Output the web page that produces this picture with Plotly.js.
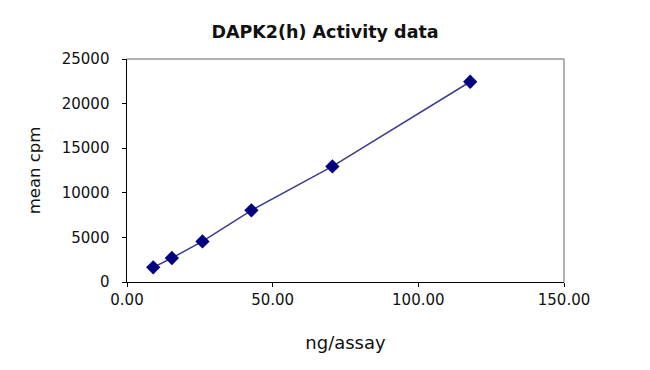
<!DOCTYPE html>
<html><head><meta charset="utf-8">
<script src="https://cdn.plot.ly/plotly-3.0.1.min.js"></script>
<style>html,body{margin:0;padding:0;background:#fff;}#chart{width:650px;height:370px;}</style>
</head><body><div id="chart"></div>
<script>
const ngPerAssay = [9.0, 15.4, 25.9, 42.7, 70.5, 117.8];
const meanCpm = [1640, 2690, 4550, 8030, 12960, 22450];
const xTickVals = [0, 50, 100, 150];
const xTickText = ['0.00', '50.00', '100.00', '150.00'];
const yTickVals = [0, 5000, 10000, 15000, 20000, 25000];

const trace = {
  x: ngPerAssay, y: meanCpm, type: 'scatter', mode: 'lines+markers',
  line: {color: '#3d3d8f', width: 1.5},
  marker: {symbol: 'diamond', size: 11, color: '#000080'},
  showlegend: false, hoverinfo: 'none'
};
const F = 'DejaVu Sans, Verdana, sans-serif';
const layout = {
  width: 650, height: 370,
  margin: {l: 127, r: 86, t: 59, b: 88},
  paper_bgcolor: '#fff', plot_bgcolor: '#fff',
  font: {family: F, color: '#111', size: 15},
  title: {text: '<b>DAPK2(h) Activity data</b>', font: {family: F, size: 17.5, color: '#111'}, x: 0.5, xanchor: 'center', y: 0.913, yanchor: 'middle'},
  xaxis: {
    range: [0, 150], tickvals: xTickVals, ticktext: xTickText,
    showgrid: false, zeroline: false, showline: true, linecolor: '#000', linewidth: 1,
    ticks: 'outside', ticklen: 4, tickcolor: '#000',
    tickfont: {family: F, size: 15, color: '#111'},
    title: {text: 'ng/assay', font: {family: F, size: 18, color: '#111'}, standoff: 28},
    mirror: false
  },
  yaxis: {
    range: [0, 25000], tickvals: yTickVals, ticktext: yTickVals.map(v => v + '\u00a0\u00a0'),
    showgrid: false, zeroline: false, showline: true, linecolor: '#000', linewidth: 1,
    ticks: 'outside', ticklen: 4, tickcolor: '#000',
    tickfont: {family: F, size: 15, color: '#111'},
    title: {text: 'mean cpm', font: {family: F, size: 16.5, color: '#111'}, standoff: 16}
  },
  shapes: [
    {type: 'line', xref: 'paper', yref: 'paper', x0: 0, x1: 1, y0: 1, y1: 1, line: {color: '#999', width: 1.5}},
    {type: 'line', xref: 'paper', yref: 'paper', x0: 1, x1: 1, y0: 0, y1: 1, line: {color: '#999', width: 1.5}}
  ]
};
Plotly.newPlot('chart', [trace], layout, {displayModeBar: false, staticPlot: true});
</script></body></html>
